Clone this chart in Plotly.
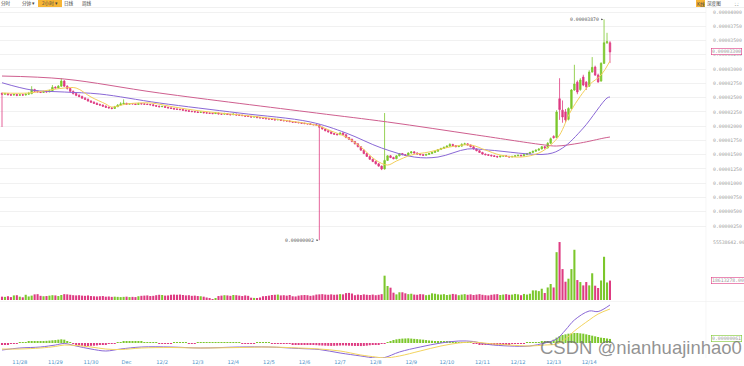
import pandas as pd
import plotly.graph_objects as go

# ---------------- data (prices in units of 1e-8) ----------------
START = "2021-11-27 12:00"
N_CANDLES = 206

OPEN = [2575,2560,2570,2550,2545,2555,2540,2550,2545,2560,
        2570,2640,2610,2600,2590,2605,2600,2620,2680,2670,
        2700,2790,2700,2660,2610,2570,2540,2520,2490,2470,
        2440,2420,2400,2380,2370,2350,2330,2320,2310,2340,
        2370,2390,2400,2385,2395,2390,2380,2395,2390,2385,
        2380,2375,2360,2350,2340,2345,2330,2320,2310,2300,
        2295,2290,2280,2270,2260,2255,2250,2240,2245,2235,
        2230,2225,2220,2230,2215,2210,2220,2205,2200,2210,
        2195,2190,2185,2175,2170,2160,2165,2150,2145,2140,
        2130,2125,2120,2110,2115,2100,2095,2090,2080,2070,
        2065,2060,2050,2045,2040,2030,2025,2020,1980,1950,
        1920,1900,1870,1860,1850,1880,1850,1800,1770,1730,
        1690,1640,1580,1520,1470,1420,1380,1340,1300,1250,
        1400,1480,1450,1430,1480,1520,1500,1490,1530,1550,
        1530,1510,1500,1490,1505,1520,1540,1560,1590,1610,
        1630,1650,1680,1660,1640,1650,1680,1690,1670,1640,
        1600,1570,1540,1510,1500,1490,1480,1470,1460,1475,
        1480,1470,1460,1470,1480,1490,1480,1500,1520,1540,
        1560,1580,1600,1640,1620,1700,1820,1800,2480,2280,
        2250,2120,2310,2633,2770,2640,2860,2770,2700,2948,
        3035,2895,2790,3100,3460,3460]
HIGH = [2590,2585,2580,2565,2570,2565,2560,2565,2575,2600,
        2700,2655,2625,2615,2620,2615,2640,2720,2700,2720,
        2840,2810,2715,2670,2625,2590,2560,2535,2510,2485,
        2455,2435,2415,2395,2380,2365,2345,2335,2355,2385,
        2420,2470,2410,2405,2400,2395,2410,2405,2400,2395,
        2390,2385,2370,2360,2360,2350,2340,2330,2320,2310,
        2305,2300,2290,2280,2270,2265,2260,2260,2255,2245,
        2240,2235,2245,2240,2225,2235,2230,2215,2225,2220,
        2205,2200,2195,2185,2180,2180,2175,2160,2155,2150,
        2140,2135,2130,2130,2125,2110,2105,2100,2090,2080,
        2075,2070,2060,2055,2050,2040,2035,2030,1990,1960,
        1930,1910,1880,1870,1895,1890,1860,1810,1780,1740,
        1700,1650,1590,1535,1485,1430,1395,1355,1310,2230,
        1490,1495,1465,1490,1530,1530,1510,1540,1560,1560,
        1540,1520,1510,1515,1530,1550,1570,1600,1620,1640,
        1665,1700,1690,1670,1660,1700,1710,1700,1680,1650,
        1610,1580,1550,1520,1510,1500,1490,1480,1485,1490,
        1490,1480,1480,1490,1500,1500,1510,1530,1550,1570,
        1590,1610,1650,1655,1720,1800,1840,2280,2840,2450,
        2300,2330,2650,3075,2800,2840,2900,2790,2980,3210,
        3060,2920,3120,3870,3635,3490]
LOW = [1985,2550,2540,2530,2535,2525,2530,2530,2540,2550,
       2560,2600,2590,2580,2585,2590,2595,2610,2655,2660,
       2690,2690,2640,2590,2555,2525,2505,2480,2460,2430,
       2410,2390,2370,2355,2340,2320,2310,2295,2305,2335,
       2365,2380,2375,2380,2380,2370,2375,2380,2375,2370,
       2365,2350,2340,2330,2335,2320,2310,2300,2290,2285,
       2280,2270,2260,2250,2245,2240,2230,2235,2225,2220,
       2215,2210,2215,2205,2200,2205,2195,2190,2195,2185,
       2180,2175,2165,2160,2150,2155,2140,2135,2130,2120,
       2115,2110,2100,2105,2090,2085,2080,2070,2060,2055,
       2050,2040,2035,2030,2020,2015,2010,2,1940,1910,
       1890,1860,1850,1840,1845,1840,1790,1760,1720,1680,
       1630,1570,1510,1460,1410,1370,1330,1290,1230,1240,
       1390,1440,1420,1420,1470,1490,1480,1480,1520,1520,
       1500,1490,1480,1485,1500,1515,1535,1555,1585,1600,
       1625,1645,1650,1630,1635,1645,1675,1660,1630,1590,
       1560,1530,1500,1490,1480,1470,1460,1450,1455,1465,
       1460,1450,1455,1465,1475,1470,1475,1495,1515,1535,
       1555,1575,1595,1600,1610,1690,1780,1790,2110,2060,
       2060,2100,2290,2620,2560,2620,2700,2633,2690,2940,
       2880,2760,2780,3090,3440,3105]
CLOSE = [2560,2570,2550,2545,2555,2540,2550,2545,2560,2570,
         2640,2610,2600,2590,2605,2600,2620,2680,2670,2700,
         2790,2700,2660,2610,2570,2540,2520,2490,2470,2440,
         2420,2400,2380,2370,2350,2330,2320,2310,2340,2370,
         2390,2400,2385,2395,2390,2380,2395,2390,2385,2380,
         2375,2360,2350,2340,2345,2330,2320,2310,2300,2295,
         2290,2280,2270,2260,2255,2250,2240,2245,2235,2230,
         2225,2220,2230,2215,2210,2220,2205,2200,2210,2195,
         2190,2185,2175,2170,2160,2165,2150,2145,2140,2130,
         2125,2120,2110,2115,2100,2095,2090,2080,2070,2065,
         2060,2050,2045,2040,2030,2025,2020,1980,1950,1920,
         1900,1870,1860,1850,1880,1850,1800,1770,1730,1690,
         1640,1580,1520,1470,1420,1380,1340,1300,1250,1400,
         1480,1450,1430,1480,1520,1500,1490,1530,1550,1530,
         1510,1500,1490,1505,1520,1540,1560,1590,1610,1630,
         1650,1680,1660,1640,1650,1680,1690,1670,1640,1600,
         1570,1540,1510,1500,1490,1480,1470,1460,1475,1480,
         1470,1460,1470,1480,1490,1480,1500,1520,1540,1560,
         1580,1600,1640,1620,1700,1780,1800,2248,2290,2160,
         2110,2310,2633,2738,2598,2808,2720,2690,2948,3030,
         2895,2775,3100,3460,3480,3300]
# volume in millions
VOLUME = [3.2,3.0,3.6,2.8,4.4,4.6,3.2,2.6,5.0,3.4,
          4.2,5.4,5.6,4.0,3.6,3.8,4.2,4.6,4.4,3.8,
          4.8,5.6,5.4,5.0,4.6,4.4,4.6,4.2,4.0,4.4,
          3.8,3.6,3.4,3.6,3.8,3.2,3.4,3.0,3.2,3.0,
          2.8,3.0,3.2,2.8,3.0,2.8,3.6,4.0,4.2,4.4,
          3.8,4.0,4.6,5.0,4.8,4.2,4.4,5.0,5.2,5.0,
          5.2,4.8,4.4,4.6,4.0,4.2,3.8,3.6,3.2,2.4,
          1.2,0.8,1.4,3.8,4.2,4.6,4.4,4.0,4.8,4.6,
          4.2,3.8,4.4,4.0,2.2,2.0,1.8,2.4,3.6,3.8,
          4.2,4.8,5.0,5.2,4.4,4.6,4.2,4.8,3.6,3.4,
          4.2,4.6,4.8,4.6,4.0,4.4,5.2,5.4,5.6,5.2,
          5.0,5.4,5.0,5.2,5.6,5.4,6.6,6.8,6.2,4.6,
          5.2,4.8,5.4,5.0,4.8,5.2,4.6,5.0,5.6,23.3,
          13.4,11.8,7.0,5.4,7.4,7.4,6.4,5.6,6.0,5.2,
          5.0,5.6,5.4,4.6,5.0,6.4,6.0,5.4,5.2,5.6,
          4.8,5.2,5.8,5.4,4.6,5.2,5.6,5.0,5.4,4.8,
          5.2,5.6,5.0,4.6,4.4,5.0,5.4,5.6,4.8,5.2,
          5.6,5.0,5.2,5.8,5.4,4.6,5.8,5.2,6.0,9.2,
          9.2,8.5,10.8,6.7,12.0,15.3,12.0,45.8,55.5,29.6,
          17.5,20.4,29.6,48.1,19.1,17.2,14.0,17.2,14.0,25.6,
          13.7,11.5,18.7,41.4,16.8,18.6]
# MACD histogram (1e-8)
MACD_HIST = [-18,-20,-16,-12,-8,-4,6,10,14,16,
             20,24,22,26,30,32,36,40,44,50,
             55,50,30,10,-10,-25,-35,-42,-45,-45,
             -42,-40,-36,-30,-24,-18,-14,-10,-6,4,
             10,16,20,24,22,20,18,16,14,10,
             8,6,4,-2,-4,-6,-4,-2,2,4,
             6,4,2,-2,-4,-2,2,4,6,8,
             6,4,2,4,6,8,10,8,6,4,
             2,-2,-4,-6,-4,-2,2,4,6,4,
             2,-2,-4,-6,-8,-10,-12,-14,-16,-18,
             -20,-22,-24,-26,-28,-30,-32,-36,-38,-40,
             -42,-44,-42,-40,-38,-36,-38,-40,-42,-44,
             -45,-46,-44,-40,-34,-28,-22,-16,-12,-6,
             10,30,45,55,62,66,68,70,66,62,
             58,54,50,44,38,34,30,26,22,20,
             18,16,14,12,10,8,6,4,2,-4,
             -10,-16,-22,-26,-28,-30,-28,-26,-24,-20,
             -18,-16,-14,-12,-10,-8,-4,2,6,10,
             12,14,16,18,22,30,50,80,105,120,
             130,140,145,150,150,145,140,130,120,110,
             100,90,80,75,68,61]

# moving averages read at sampled candles (candle index, value 1e-8)
MA_S_IDX = [0,9,16,21,25,30,35,37,42,50,58,67,77,87,97,104,107,111,116,121,126,130,133,138,144,151,158,163,168,175,181,185,188,192,198,202,205]
MA_S_VAL = [2581,2581,2633,2668,2668,2511,2388,2335,2388,2406,2335,2265,2213,2160,2090,2037,2002,1915,1810,1635,1406,1319,1389,1494,1547,1635,1670,1582,1494,1459,1529,1670,1845,2283,2721,2896,3140]
MA_M_IDX = [0,10,21,33,53,80,104,116,128,139,147,157,164,184,189,196,204,205]
MA_M_VAL = [2761,2633,2598,2563,2406,2230,2073,1880,1617,1459,1459,1600,1582,1512,1617,1967,2493,2511]
MA_L_IDX = [0,21,53,106,130,160,183,187,195,203,205]
MA_L_VAL = [2878,2826,2581,2230,2073,1845,1670,1652,1705,1792,1810]

DIF_IDX = [0,6,13,18,21,25,30,35,40,47,57,67,80,90,100,107,114,121,126,129,134,141,148,154,159,164,171,178,183,187,190,193,198,201,205]
DIF_VAL = [-105,-75,-60,-30,-8,-45,-90,-120,-90,-60,-60,-75,-60,-60,-82,-98,-150,-195,-225,-218,-135,-60,0,30,22,-22,-45,-45,0,60,195,345,480,472,570]
DEA_VAL = [-90,-90,-75,-52,-30,-38,-60,-90,-98,-75,-68,-75,-68,-60,-75,-90,-120,-180,-210,-225,-195,-120,-45,0,15,-8,-30,-45,-30,-15,60,180,345,435,510]

PRICE_TICKS = [250,500,750,1000,1250,1500,1750,2000,2250,2500,2750,3000,3250,3500,3750,4000]
X_TICK_DATES = ["2021-11-28","2021-11-29","2021-11-30","2021-12-01","2021-12-02","2021-12-03",
                "2021-12-04","2021-12-05","2021-12-06","2021-12-07","2021-12-08","2021-12-09",
                "2021-12-10","2021-12-11","2021-12-12","2021-12-13","2021-12-14"]
X_TICK_TEXT = ["11/28","11/29","11/30","Dec","12/2","12/3","12/4","12/5","12/6","12/7",
               "12/8","12/9","12/10","12/11","12/12","12/13","12/14"]
MAX_LABEL = "0.00003870"
MIN_LABEL = "0.00000002"
MAX_IDX, MAX_VAL = 203, 3870
MIN_IDX, MIN_VAL = 107, 2
LAST_PRICE_LABEL = "0.00003300"
VOL_MAX = 55538642
VOL_LAST = 18613278
MACD_LAST_LABEL = "0.00000061"

# ---------------- figure ----------------
UP = "#7cc72c"
DOWN = "#de3b82"
W, H = 744, 366
XR = 706 / W

times = pd.date_range(START, periods=N_CANDLES, freq="2h")
vol = [v * 1e6 for v in VOLUME]
bar_colors = [UP if c >= o else DOWN for o, c in zip(OPEN, CLOSE)]
hist_colors = [UP if v >= 0 else DOWN for v in MACD_HIST]

def py(yp):
    return 1 - yp / H

fig = go.Figure()
fig.add_trace(go.Candlestick(
    x=times, open=OPEN, high=HIGH, low=LOW, close=CLOSE,
    increasing=dict(line=dict(color=UP, width=0.8), fillcolor=UP),
    decreasing=dict(line=dict(color=DOWN, width=0.8), fillcolor=DOWN),
    whiskerwidth=0, xaxis="x", yaxis="y", hoverinfo="skip"))
fig.add_trace(go.Scatter(x=[times[i] for i in MA_L_IDX], y=MA_L_VAL, mode="lines",
                         line=dict(color="#cf5f8f", width=1, shape="spline"), xaxis="x", yaxis="y"))
fig.add_trace(go.Scatter(x=[times[i] for i in MA_M_IDX], y=MA_M_VAL, mode="lines",
                         line=dict(color="#8a68d6", width=1, shape="spline"), xaxis="x", yaxis="y"))
fig.add_trace(go.Scatter(x=[times[i] for i in MA_S_IDX], y=MA_S_VAL, mode="lines",
                         line=dict(color="#f3cf5a", width=1, shape="spline"), xaxis="x", yaxis="y"))

fig.add_trace(go.Bar(x=times, y=vol, marker=dict(color=bar_colors, line=dict(width=0)),
                     xaxis="x", yaxis="y2"))

fig.add_trace(go.Bar(x=times, y=MACD_HIST, marker=dict(color=hist_colors, line=dict(width=0)),
                     xaxis="x", yaxis="y3"))
fig.add_trace(go.Scatter(x=[times[i] for i in DIF_IDX], y=DIF_VAL, mode="lines",
                         line=dict(color="#8a68d6", width=1, shape="spline"), xaxis="x", yaxis="y3"))
fig.add_trace(go.Scatter(x=[times[i] for i in DIF_IDX], y=DEA_VAL, mode="lines",
                         line=dict(color="#f3d45e", width=1, shape="spline"), xaxis="x", yaxis="y3"))

mono = "DejaVu Sans Mono"
axis_font = dict(family=mono, size=4.8, color="#a0a0a0")

fig.update_layout(
    width=W, height=H, margin=dict(l=0, r=0, t=0, b=0),
    paper_bgcolor="white", plot_bgcolor="white", showlegend=False, bargap=0.3,
    xaxis=dict(domain=[0, XR], anchor="y3", type="date",
               range=["2021-11-27 10:39", "2021-12-17 06:45"],
               tickvals=X_TICK_DATES, ticktext=X_TICK_TEXT,
               tickfont=dict(family="DejaVu Sans", size=5.2, color="#4f93c9"),
               showgrid=False, zeroline=False, ticks="", rangeslider=dict(visible=False),
               automargin=False, showline=False),
    yaxis=dict(domain=[py(241), py(8)], range=[-12, 4070], side="right", anchor="x",
               tickvals=PRICE_TICKS, ticktext=[f"{v*1e-8:.8f}" for v in PRICE_TICKS],
               tickfont=axis_font, showgrid=True, gridcolor="#f1f1f1", gridwidth=0.6,
               zeroline=False, ticks="", automargin=False, ticklabelstandoff=6),
    yaxis2=dict(domain=[py(300), py(242)], range=[0, VOL_MAX], side="right", anchor="x",
                tickvals=[VOL_MAX], ticktext=[f"{VOL_MAX:.2f}"], tickfont=axis_font,
                showgrid=True, gridcolor="#eeeeee", gridwidth=0.6, zeroline=False,
                ticks="", automargin=False, ticklabelstandoff=6),
    yaxis3=dict(domain=[py(358), py(302)], range=[-225, 615], side="right", anchor="x",
                showticklabels=False, showgrid=False, zeroline=False, ticks="",
                automargin=False),
)

shapes = [
    dict(type="line", xref="paper", yref="paper", x0=0, x1=1, y0=py(7.5), y1=py(7.5),
         line=dict(color="#ececec", width=0.8)),
    dict(type="line", xref="paper", yref="paper", x0=0, x1=1, y0=py(301.5), y1=py(301.5),
         line=dict(color="#efefef", width=0.6)),
    dict(type="line", xref="paper", yref="paper", x0=XR, x1=XR, y0=py(358), y1=py(8),
         line=dict(color="#f0f0f0", width=0.6)),
    # toolbar highlight boxes
    dict(type="rect", xref="paper", yref="paper", x0=38 / W, x1=62 / W, y0=py(7), y1=py(0),
         fillcolor="#f6b536", line=dict(width=0)),
    dict(type="rect", xref="paper", yref="paper", x0=696 / W, x1=705 / W, y0=py(7), y1=py(0),
         fillcolor="#f6b536", line=dict(width=0)),
]
fig.update_layout(shapes=shapes)

cjk = "Noto Sans CJK SC"
tool = [("分时", 6), ("分钟 ▾", 28), ("2小时 ▾", 50), ("日线", 69), ("周线", 87),
        ("K线", 700.5), ("深度图", 714), ("⛶", 737)]
ann = []
for t, xc in tool:
    ann.append(dict(text=t, x=xc / W, y=py(3.6), xref="paper", yref="paper", showarrow=False,
                    font=dict(family=cjk, size=4.6, color="#444"), xanchor="center", yanchor="middle"))

ann += [
    dict(text=MAX_LABEL, x=times[MAX_IDX], y=MAX_VAL, xref="x", yref="y", showarrow=True,
         ax=-3, ay=0, xanchor="right", arrowhead=2, arrowsize=0.5, arrowwidth=0.7,
         arrowcolor="#555", standoff=1, font=dict(family=mono, size=4.8, color="#555")),
    dict(text=MIN_LABEL, x=times[MIN_IDX], y=MIN_VAL, xref="x", yref="y", showarrow=True,
         ax=-3, ay=0, xanchor="right", arrowhead=2, arrowsize=0.5, arrowwidth=0.7,
         arrowcolor="#555", standoff=1, font=dict(family=mono, size=4.8, color="#555")),
    dict(text=LAST_PRICE_LABEL, x=711 / W, y=3300, xref="paper", yref="y", showarrow=False,
         xanchor="left", yanchor="middle", bordercolor=DOWN, borderwidth=0.6, borderpad=0.5,
         bgcolor="white", font=dict(family=mono, size=4.8, color="#999")),
    dict(text=f"{VOL_LAST:.2f}", x=711 / W, y=VOL_LAST, xref="paper", yref="y2", showarrow=False,
         xanchor="left", yanchor="middle", bordercolor=DOWN, borderwidth=0.6, borderpad=0.5,
         bgcolor="white", font=dict(family=mono, size=4.8, color="#999")),
    dict(text=MACD_LAST_LABEL, x=711 / W, y=61, xref="paper", yref="y3", showarrow=False,
         xanchor="left", yanchor="middle", bordercolor=UP, borderwidth=0.6, borderpad=0.5,
         bgcolor="white", font=dict(family=mono, size=4.8, color="#999")),
    dict(text="CSDN @nianhuajinhao0", x=641 / W, y=py(347), xref="paper", yref="paper",
         showarrow=False, xanchor="center", yanchor="middle",
         font=dict(family="Liberation Sans", size=18.5, color="rgba(110,110,110,0.75)")),
]
fig.update_layout(annotations=ann)

fig.write_html("out.html", config={"displayModeBar": False},
               post_script="document.body.style.margin='0';document.body.style.padding='0';"
                           "document.body.style.overflow='hidden';")
